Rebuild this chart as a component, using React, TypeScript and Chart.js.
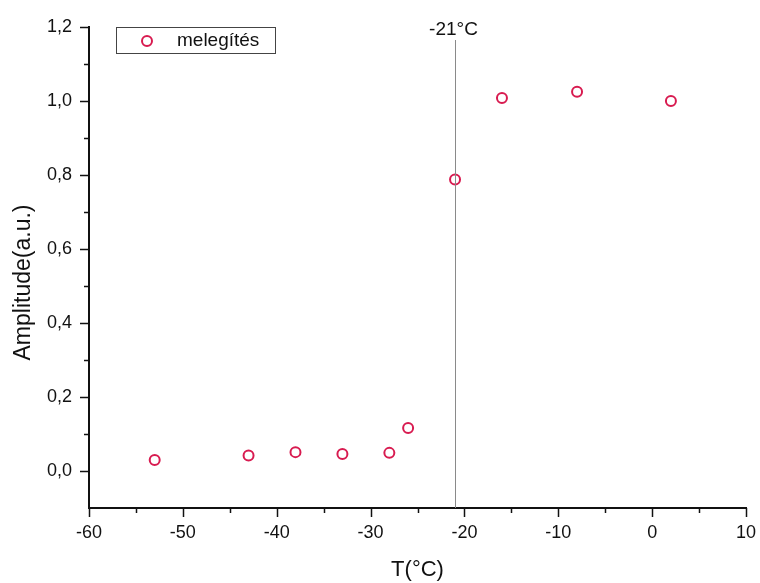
import React, { useEffect, useRef } from "react";
import { Chart, registerables } from "chart.js";

Chart.register(...registerables);

// ---- data ----
const temperatures = [-53, -43, -38, -33, -28, -26, -21, -16, -8, 2];
const amplitudes = [0.03, 0.042, 0.051, 0.046, 0.049, 0.116, 0.788, 1.008, 1.025, 1.0];
const seriesLabel = "melegítés";
const transitionT = -21;
const transitionLabel = "-21°C";
const xMajorTicks = [-60, -50, -40, -30, -20, -10, 0, 10];
const xMinorTicks = [-55, -45, -35, -25, -15, -5, 5];
const yMajorTicks = [0, 0.2, 0.4, 0.6, 0.8, 1.0, 1.2];
const yMinorTicks = [-0.1, 0.1, 0.3, 0.5, 0.7, 0.9, 1.1];
const xTitle = "T(°C)";
const yTitle = "Amplitude(a.u.)";

const FONT = "'Liberation Sans', Arial, Helvetica, sans-serif";
const RED = "#d81b50";

const decor = {
  id: "decor",
  afterDraw(chart: any) {
    const ctx = chart.ctx;
    const xs = chart.scales.x;
    const ys = chart.scales.y;
    const area = chart.chartArea;
    ctx.save();
    // tick marks
    ctx.strokeStyle = "#111";
    ctx.lineWidth = 1.5;
    const drawX = (vals: number[], len: number) => {
      vals.forEach((v) => {
        const px = Math.round(xs.getPixelForValue(v)) + 0.5;
        ctx.beginPath();
        ctx.moveTo(px, area.bottom);
        ctx.lineTo(px, area.bottom + len);
        ctx.stroke();
      });
    };
    const drawY = (vals: number[], len: number) => {
      vals.forEach((v) => {
        const py = Math.round(ys.getPixelForValue(v)) + 0.5;
        if (py > area.bottom + 1) return;
        ctx.beginPath();
        ctx.moveTo(area.left, py);
        ctx.lineTo(area.left - len, py);
        ctx.stroke();
      });
    };
    drawX(xMajorTicks, 9);
    drawX(xMinorTicks, 5);
    drawY(yMajorTicks, 9);
    drawY(yMinorTicks.filter((v) => v > ys.min + 1e-9), 5);

    // transition line
    const lx = Math.round(xs.getPixelForValue(transitionT)) + 0.5;
    ctx.strokeStyle = "#8a8a8a";
    ctx.lineWidth = 1;
    ctx.beginPath();
    ctx.moveTo(lx, area.top + 13);
    ctx.lineTo(lx, area.bottom);
    ctx.stroke();
    ctx.fillStyle = "#111";
    ctx.font = `19px ${FONT}`;
    ctx.textAlign = "center";
    ctx.textBaseline = "middle";
    ctx.fillText(transitionLabel, lx - 2, area.top + 3);

    // y title
    ctx.save();
    ctx.translate(24, (area.top + area.bottom) / 2 + 15);
    ctx.rotate(-Math.PI / 2);
    ctx.font = `23px ${FONT}`;
    ctx.textAlign = "center";
    ctx.textBaseline = "middle";
    ctx.fillStyle = "#111";
    ctx.fillText(yTitle, 0, 0);
    ctx.restore();

    // legend
    const bx = area.left + 27;
    const by = area.top;
    const bw = 159;
    const bh = 26;
    ctx.fillStyle = "#fff";
    ctx.fillRect(bx, by, bw, bh);
    ctx.strokeStyle = "#444";
    ctx.lineWidth = 1;
    ctx.strokeRect(bx + 0.5, by + 0.5, bw, bh);
    ctx.beginPath();
    ctx.arc(bx + 31, by + 14, 5, 0, Math.PI * 2);
    ctx.strokeStyle = RED;
    ctx.lineWidth = 2;
    ctx.stroke();
    ctx.fillStyle = "#111";
    ctx.font = `19px ${FONT}`;
    ctx.textAlign = "left";
    ctx.textBaseline = "middle";
    ctx.fillText(chart.data.datasets[0].label, bx + 61, by + 14);
    ctx.restore();
  },
};

export default function App() {
  const ref = useRef<HTMLCanvasElement>(null);
  useEffect(() => {
    document.body.style.margin = "0";
    const canvas = ref.current!;
    const chart = new Chart(canvas, {
      type: "scatter",
      data: {
        datasets: [
          {
            label: seriesLabel,
            data: temperatures.map((t, i) => ({ x: t, y: amplitudes[i] })),
            pointRadius: 5,
            pointHoverRadius: 5,
            pointBorderWidth: 2,
            borderColor: RED,
            pointBorderColor: RED,
            backgroundColor: "rgba(255,255,255,0)",
            pointBackgroundColor: "rgba(255,255,255,0)",
            showLine: false,
          },
        ],
      },
      options: {
        responsive: false,
        animation: false,
        layout: { padding: { top: 27, right: 14, left: 0, bottom: 0 } },
        plugins: { legend: { display: false }, tooltip: { enabled: false } },
        scales: {
          x: {
            type: "linear",
            min: -60,
            max: 10,
            afterBuildTicks: (s: any) => {
              s.ticks = xMajorTicks.map((v) => ({ value: v }));
            },
            afterFit: (s: any) => {
              s.height = 75;
              s.paddingLeft = 0;
              s.paddingRight = 0;
            },
            grid: { display: false, drawTicks: false },
            border: { display: true, color: "#111", width: 2 },
            ticks: {
              padding: 14,
              color: "#111",
              font: { family: FONT, size: 18 },
              maxRotation: 0,
              autoSkip: false,
              callback: (v: any) => String(v),
            },
            title: {
              display: true,
              text: xTitle,
              color: "#111",
              font: { family: FONT, size: 22 },
              padding: { top: 0, bottom: 0 },
            },
          },
          y: {
            type: "linear",
            min: -0.1,
            max: 1.2,
            afterBuildTicks: (s: any) => {
              s.ticks = yMajorTicks.map((v) => ({ value: v }));
            },
            afterFit: (s: any) => {
              s.width = 89;
              s.paddingTop = 0;
              s.paddingBottom = 0;
            },
            grid: { display: false, drawTicks: false },
            border: { display: true, color: "#111", width: 2 },
            ticks: {
              padding: 17,
              color: "#111",
              font: { family: FONT, size: 18 },
              autoSkip: false,
              callback: (v: any) => Number(v).toFixed(1).replace(".", ","),
            },
          },
        },
      },
      plugins: [decor],
    });
    return () => chart.destroy();
  }, []);
  return <canvas ref={ref} width={760} height={583} style={{ display: "block" }} />;
}
